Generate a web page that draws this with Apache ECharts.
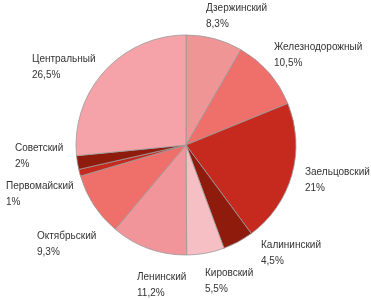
<!DOCTYPE html>
<html><head><meta charset="utf-8">
<script src="https://cdn.jsdelivr.net/npm/echarts@6/dist/echarts.min.js"></script>
<style>html,body{margin:0;padding:0;background:#fff}#c{width:371px;height:300px}</style>
</head><body><div id="c"></div>
<script>
const categories = ['Дзержинский','Железнодорожный','Заельцовский','Калининский','Кировский','Ленинский','Октябрьский','Первомайский','Советский','Центральный'];
const shares = [8.3, 10.5, 21, 4.5, 5.5, 11.2, 9.3, 1, 2, 26.5];
const colors = ['#f09595','#ef6f6a','#c62a1f','#8e1b0c','#f6bfc3','#f1959a','#ef6f6a','#c62a1f','#8e1b0c','#f5a3a8'];
// label anchor positions (top-left of each label block)
const labelPos = [[206,0],[274,39],[305,164],[261,237],[205,265],[137,269],[37,228],[6,178],[15,140],[32,51]];

const chart = echarts.init(document.getElementById('c'), null, {renderer:'canvas'});
chart.setOption({
  animation:false,
  series:[{
    type:'pie',
    center:[186,145],
    radius:110,
    startAngle:90,
    clockwise:true,
    data: categories.map((n,i)=>({name:n, value:shares[i], itemStyle:{color:colors[i]}})),
    itemStyle:{borderColor:'#9a9a9a', borderWidth:0.8},
    label:{
      show:true, position:'outside', color:'#333', overflow:'none', alignTo:'none',
      fontFamily:'"Liberation Sans Narrow","Arial Narrow","Liberation Sans",sans-serif',
      fontSize:10, lineHeight:16,
      formatter:p=>p.name+'\n'+String(p.value).replace('.',',')+'%'
    },
    labelLine:{show:false},
    labelLayout:function(params){
      const p = labelPos[params.dataIndex];
      return {x:p[0], y:p[1], align:'left', verticalAlign:'top', width:120};
    },
    emphasis:{disabled:true}
  }]
});
</script></body></html>
